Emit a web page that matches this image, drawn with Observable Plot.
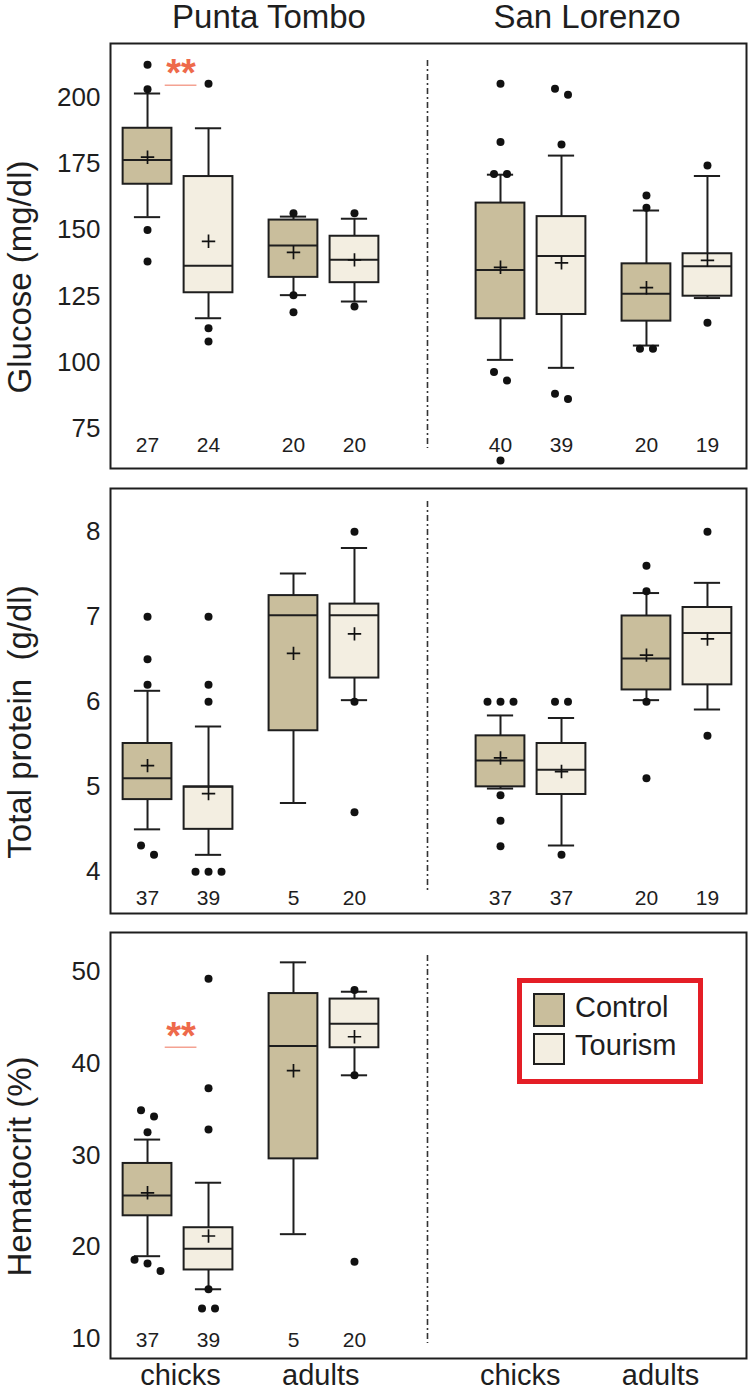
<!DOCTYPE html>
<html><head><meta charset="utf-8">
<script src="https://cdn.jsdelivr.net/npm/d3@7"></script>
<script src="https://cdn.jsdelivr.net/npm/@observablehq/plot@0.6"></script>
<style>
body{margin:0;background:#fff;}
#chart{position:relative;width:751px;height:1390px;font-family:"Liberation Sans",Arial,sans-serif;}
#chart svg{display:block;}
</style></head><body><div id="chart"></div>
<script>
// ---------- data ----------
const sites = ["Punta Tombo", "San Lorenzo"];
const ages = ["chicks", "adults"];
const treatments = ["Control", "Tourism"];
const treatmentFills = ["#c9be9c", "#f3eee1"];
// group order: PT chicks C, PT chicks T, PT adults C, PT adults T, SL chicks C, SL chicks T, SL adults C, SL adults T

const glucoseTicks = [75, 100, 125, 150, 175, 200];
const glucoseQ1 = [167.3, 126.4, 132.2, 130.2, 116.6, 118.2, 115.7, 125.1];
const glucoseMedian = [176.4, 136.6, 144.2, 138.8, 135.0, 140.3, 126.0, 136.4];
const glucoseQ3 = [188.4, 170.2, 153.8, 147.7, 160.2, 155.1, 137.3, 141.1];
const glucoseLow = [154.9, 116.8, 125.5, 123.1, 101.1, 98.1, 106.5, 124.4];
const glucoseHigh = [201.5, 188.4, 155.1, 154.3, 170.9, 178.1, 157.4, 170.4];
const glucoseMean = [177.5, 145.8, 141.6, 138.8, 136.0, 137.7, 128.3, 138.6];
const glucoseN = [27, 24, 20, 20, 40, 39, 20, 19];
const glucoseOutliers = [
  [212.3, 203.1, 150.1, 138.2], [205.2, 113.0, 108.0], [156.4, 125.5, 119.1], [156.4, 121.2],
  [205.2, 183.2, 171.2, 171.2, 96.5, 93.3, 63.2], [203.3, 201.0, 182.3, 88.3, 86.4],
  [163.1, 158.4, 105.3, 105.3], [174.4, 115.1]
];
const glucoseSig = [{site: "Punta Tombo", age: "chicks", label: "**", star: 212.8, line: 204.6}];

const proteinTicks = [4, 5, 6, 7, 8];
const proteinQ1 = [4.85, 4.50, 5.66, 6.28, 5.00, 4.91, 6.14, 6.20];
const proteinMedian = [5.10, 5.00, 7.02, 7.02, 5.31, 5.20, 6.51, 6.81];
const proteinQ3 = [5.51, 5.00, 7.25, 7.15, 5.60, 5.51, 7.01, 7.11];
const proteinLow = [4.50, 4.20, 4.81, 6.02, 4.98, 4.31, 6.02, 5.91];
const proteinHigh = [6.13, 5.71, 7.51, 7.81, 5.84, 5.81, 7.28, 7.40];
const proteinMean = [5.25, 4.92, 6.57, 6.80, 5.34, 5.18, 6.55, 6.74];
const proteinN = [37, 39, 5, 20, 37, 37, 20, 19];
const proteinOutliers = [
  [7.0, 6.5, 6.2, 4.31, 4.2], [7.0, 6.2, 6.0, 4.0, 4.0, 4.0], [], [8.0, 6.0, 4.7],
  [6.0, 6.0, 6.0, 4.9, 4.6, 4.3], [6.0, 6.0, 4.2], [7.6, 7.3, 6.0, 5.1], [8.0, 5.6]
];

const hematocritTicks = [10, 20, 30, 40, 50];
const hematocritQ1 = [23.4, 17.5, 29.6, 41.7];
const hematocritMedian = [25.6, 19.8, 41.9, 44.3];
const hematocritQ3 = [29.1, 22.1, 47.6, 47.0];
const hematocritLow = [19.0, 15.4, 21.4, 38.7];
const hematocritHigh = [31.7, 27.0, 51.0, 47.8];
const hematocritMean = [25.9, 21.2, 39.2, 42.9];
const hematocritN = [37, 39, 5, 20];
const hematocritOutliers = [
  [34.9, 34.2, 32.5, 18.6, 18.2, 17.4], [49.2, 37.3, 32.8, 15.4, 13.3, 13.3], [], [48.0, 38.7, 18.4]
];
const hematocritSig = [{site: "Punta Tombo", age: "chicks", label: "**", star: 44.0, line: 41.76}];

// ---------- layout ----------
const W = 751, ML = 110, MR = 5;
const XMIN = -0.607, XMAX = 9.82, SITE_STEP = 5.787, AGE_STEP = 2.393;
const PXU = (W - ML - MR) / (XMAX - XMIN);
const DIVIDER = (1 + AGE_STEP + SITE_STEP) / 2;
const BOX = 0.4, CAP = 0.215;
const FONT = '"Liberation Sans", Arial, sans-serif';
const INK = "#1e1e1e";

const groups = [];
sites.forEach((site, si) => ages.forEach((age, ai) => treatments.forEach((treatment, ti) =>
  groups.push({site, age, treatment, u: si * SITE_STEP + ai * AGE_STEP + ti}))));
const pairU = (site, age) => sites.indexOf(site) * SITE_STEP + ages.indexOf(age) * AGE_STEP + 0.5;

function buildStats(q1, med, q3, lo, hi, mean, n) {
  return q1.map((v, i) => ({...groups[i], q1: v, med: med[i], q3: q3[i], lo: lo[i], hi: hi[i], mean: mean[i], n: n[i]}));
}

function panel(o) {
  const plotH = o.height - o.marginTop - o.marginBottom;
  const pxY = plotH / (o.domain[1] - o.domain[0]);
  const pts = [];
  o.stats.forEach((g, i) => {
    const vals = [...o.outliers[i]].sort((a, b) => b - a);
    const clusters = [];
    vals.forEach(v => {
      const last = clusters[clusters.length - 1];
      if (last && (last[last.length - 1] - v) * pxY < 10) last.push(v); else clusters.push([v]);
    });
    clusters.forEach(c => c.forEach((v, k) => pts.push({x: g.u + (k - (c.length - 1) / 2) * 13 / PXU, y: v})));
  });
  const line = {stroke: INK, strokeWidth: 2};
  const marks = [
    Plot.ruleX([DIVIDER], {stroke: "#333", strokeWidth: 1.6, strokeDasharray: "6,3,2,3", insetTop: o.divTop, insetBottom: o.divBottom}),
    Plot.ruleX(o.stats, {x: "u", y1: "lo", y2: "q1", ...line}),
    Plot.ruleX(o.stats, {x: "u", y1: "q3", y2: "hi", ...line}),
    Plot.ruleY(o.stats, {y: "lo", x1: d => d.u - CAP, x2: d => d.u + CAP, ...line}),
    Plot.ruleY(o.stats, {y: "hi", x1: d => d.u - CAP, x2: d => d.u + CAP, ...line}),
    Plot.rect(o.stats, {x1: d => d.u - BOX, x2: d => d.u + BOX, y1: "q1", y2: "q3", fill: "treatment", ...line}),
    Plot.ruleY(o.stats, {y: "med", x1: d => d.u - BOX, x2: d => d.u + BOX, ...line}),
    Plot.dot(o.stats, {x: "u", y: "mean", symbol: "plus", r: 4.4, stroke: "#111", strokeWidth: 1.7}),
    Plot.dot(pts, {x: "x", y: "y", r: 4, fill: "#111"}),
    Plot.text(o.stats, {x: "u", text: d => String(d.n), frameAnchor: "bottom", lineAnchor: "middle", dy: o.nDy, fontSize: 21, fill: INK}),
    Plot.text([o.label], {text: d => d, frameAnchor: "left", textAnchor: "middle", lineAnchor: "middle", rotate: -90, dx: -90, dy: 21, fontSize: 33, fill: INK}),
    Plot.frame({stroke: INK, strokeWidth: 2})
  ];
  if (o.sig) {
    const fs = 38;
    marks.push(
      Plot.ruleY(o.sig, {y: "line", x1: d => pairU(d.site, d.age) - 0.21, x2: d => pairU(d.site, d.age) + 0.31, stroke: "#f4a292", strokeWidth: 1.5}),
      Plot.text(o.sig, {x: d => pairU(d.site, d.age) + 0.05, y: "star", text: "label", fontSize: fs, fontWeight: "bold", lineAnchor: "middle", dy: 0.27 * fs, fill: "#ee6a4b"})
    );
  }
  if (o.titles) {
    marks.push(Plot.text(sites, {x: (d, i) => i === 0 ? (XMIN + DIVIDER) / 2 : (DIVIDER + XMAX) / 2, text: d => d,
      frameAnchor: "top", lineAnchor: "bottom", dy: -16, fontSize: 33, fill: INK}));
  }
  if (o.xlabels) {
    const xl = [];
    sites.forEach((s, si) => ages.forEach((a, ai) => xl.push({s, a, u: 0.54 + si * 5.57 + ai * 2.3})));
    marks.push(Plot.text(xl, {x: "u", text: "a", frameAnchor: "bottom", lineAnchor: "middle", dy: 17, fontSize: 29, fill: INK}));
  }
  return Plot.plot({
    width: W, height: o.height, marginLeft: ML, marginRight: MR, marginTop: o.marginTop, marginBottom: o.marginBottom,
    x: {domain: [XMIN, XMAX], axis: null},
    y: {domain: o.domain, ticks: o.ticks, tickFormat: d => String(d), tickSize: 0, tickPadding: 10, label: null},
    color: {domain: treatments, range: treatmentFills},
    style: {fontFamily: FONT, fontSize: "26px", color: INK, background: "white", overflow: "visible"},
    marks
  });
}

const chart = document.getElementById("chart");
chart.append(panel({
  height: 470, marginTop: 43, marginBottom: 2, domain: [60.16, 220.35], ticks: glucoseTicks,
  label: "Glucose (mg/dl)", divTop: 17, divBottom: 20, nDy: -23, titles: true, sig: glucoseSig,
  stats: buildStats(glucoseQ1, glucoseMedian, glucoseQ3, glucoseLow, glucoseHigh, glucoseMean, glucoseN),
  outliers: glucoseOutliers
}));
chart.append(panel({
  height: 445, marginTop: 18, marginBottom: 2, domain: [3.51, 8.51], ticks: proteinTicks,
  label: "Total protein\u00a0 (g/dl)", divTop: 13, divBottom: 23, nDy: -15,
  stats: buildStats(proteinQ1, proteinMedian, proteinQ3, proteinLow, proteinHigh, proteinMean, proteinN),
  outliers: proteinOutliers
}));
chart.append(panel({
  height: 475, marginTop: 17, marginBottom: 32, domain: [7.86, 54.25], ticks: hematocritTicks,
  label: "Hematocrit (%)", divTop: 23, divBottom: 15, nDy: -18, xlabels: true, sig: hematocritSig,
  stats: buildStats(hematocritQ1, hematocritMedian, hematocritQ3, hematocritLow, hematocritHigh, hematocritMean, hematocritN),
  outliers: hematocritOutliers
}));

// legend (inside the bottom panel)
const lg = d3.select(chart).append("svg")
  .attr("width", 192).attr("height", 112)
  .style("position", "absolute").style("left", "514px").style("top", "975px");
lg.append("rect").attr("x", 5.5).attr("y", 5.5).attr("width", 181).attr("height", 101)
  .attr("fill", "white").attr("stroke", "#e41e26").attr("stroke-width", 5);
treatments.forEach((t, i) => {
  const y0 = i === 0 ? 19 : 59;
  lg.append("rect").attr("x", 20).attr("y", y0).attr("width", 30).attr("height", i === 0 ? 32 : 30)
    .attr("fill", treatmentFills[i]).attr("stroke", INK).attr("stroke-width", 2);
  lg.append("text").attr("x", 61).attr("y", i === 0 ? 41.5 : 80).attr("font-family", FONT)
    .attr("font-size", 29).attr("fill", INK).text(t);
});
</script></body></html>
